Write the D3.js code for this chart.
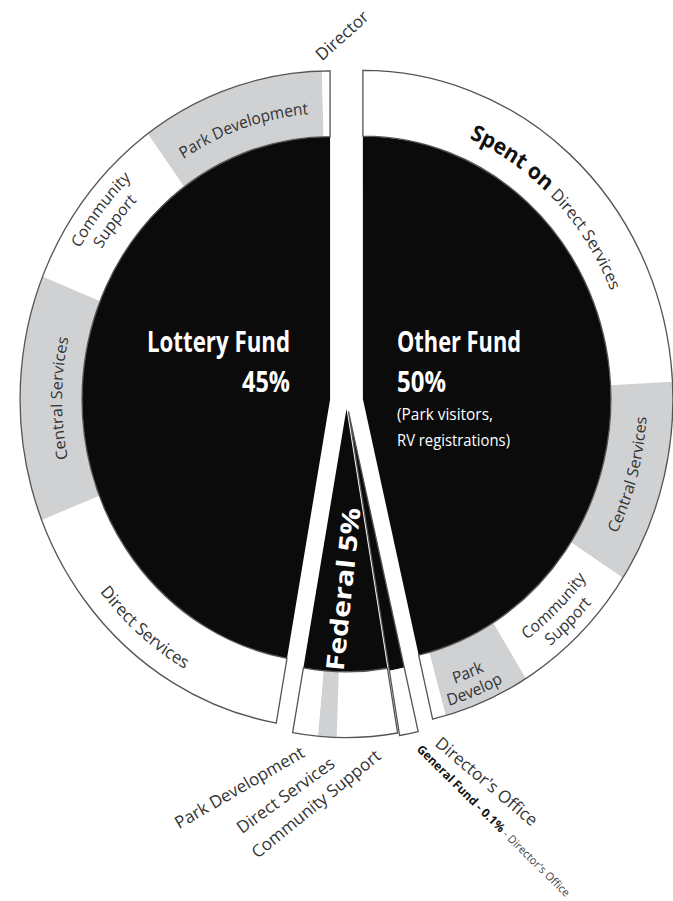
<!DOCTYPE html>
<html>

<head>
  <title>Parks funding</title>
  <style>
    body { margin: 0; background: #fff; }
    text { font-family: "Open Sans", "DejaVu Sans", sans-serif; }
  </style>
</head>

<body>

  <svg id="main" width="673" height="901"></svg>

  <script src="https://cdn.jsdelivr.net/npm/d3@7"></script>
  <script>

    // funds, clockwise from 12 o'clock
    const funds = ['Other Fund', 'General Fund', 'Federal', 'Lottery Fund']
    const fundShares = ['50%', '0.1%', '5%', '45%']
    // wedge size as it is drawn in the picture (degrees)
    const fundSweep = [167, 3.5, 19.5, 170]

    // what each fund is spent on (outer ring), clockwise, degrees as drawn
    const otherUses = ['Direct Services', 'Central Services', 'Community Support', 'Park Develop', "Director's Office"]
    const otherSweep = [87, 36, 25.3, 16.2, 2.5]
    const generalUses = ["Director's Office"]
    const generalSweep = [3.5]
    const federalUses = ['Community Support', 'Direct Services', 'Park Development']
    const federalSweep = [11.3, 3.5, 4.7]
    const lotteryUses = ['Direct Services', 'Central Services', 'Community Support', 'Park Development', 'Director']
    const lotterySweep = [58.5, 43.5, 32, 34.5, 1.5]

    const svg = d3.select('#main')
    const cx = 346.5, cy = 401, stretch = 1.06
    const rIn = 248, rOut = 310
    const explode = [16.5, 10, 7.5, 16.5]
    const black = '#0b0b0c', grey = '#d0d1d3', edge = '#555'

    const uses = [otherUses, generalUses, federalUses, lotteryUses]
    const useSweeps = [otherSweep, generalSweep, federalSweep, lotterySweep]

    const g = svg.append('g')
      .attr('transform', `translate(${cx},${cy}) scale(1,${stretch})`)

    const fundArcs = d3.pie().sort(null).value(d => d)(fundSweep)
    fundArcs.forEach((d, i) => { d.name = funds[i] })

    const inner = d3.arc().innerRadius(0).outerRadius(rIn)
    const ring = d3.arc().innerRadius(rIn).outerRadius(rOut)
    const whole = d3.arc().innerRadius(0).outerRadius(rOut)

    const mid = d => (d.startAngle + d.endAngle) / 2

    const slices = g.selectAll('g.fund')
      .data(fundArcs)
      .join('g')
      .attr('class', 'fund')
      .attr('transform', (d, i) => `translate(${Math.sin(mid(d)) * explode[i]},${-Math.cos(mid(d)) * explode[i]})`)

    slices.append('path')
      .attr('d', inner)
      .attr('fill', black)

    const segArcs = []
    slices.each(function (d, i) {
      const segs = d3.pie().sort(null).value(v => v)
        .startAngle(d.startAngle).endAngle(d.endAngle)(useSweeps[i])
      segs.forEach((s, j) => { s.name = uses[i][j] })
      segArcs.push(segs)
      d3.select(this).selectAll('path.seg')
        .data(segs)
        .join('path')
        .attr('class', 'seg')
        .attr('d', ring)
        .attr('fill', (s, j) => j % 2 ? grey : '#fff')
    })

    slices.append('path')
      .attr('d', (d, i) => i === 1 ? whole(d) : ring(d))
      .attr('fill', 'none')
      .attr('stroke', edge)
      .attr('stroke-width', 1.3)

    // text that follows the ring
    function arcPath(r, a, outward) {
      const span = 1.4
      const p = t => [r * Math.sin(t), -r * Math.cos(t)]
      const [x0, y0] = p(outward ? a - span : a + span)
      const [x1, y1] = p(outward ? a + span : a - span)
      return `M${x0},${y0} A${r},${r} 0 0 ${outward ? 1 : 0} ${x1},${y1}`
    }

    // one text element, one textPath per line
    let pathId = 0
    function ringText(fund, a, outward, lines) {
      const grp = d3.select(slices.nodes()[fund])
      const txt = grp.append('text').attr('fill', '#333')
      lines.forEach(line => {
        const id = 'lp' + (pathId++)
        grp.insert('path', 'text').attr('id', id).attr('d', arcPath(line.r, a, outward)).attr('fill', 'none')
        const tp = txt.append('textPath')
          .attr('href', '#' + id)
          .attr('startOffset', '50%')
          .attr('text-anchor', 'middle')
        line.parts.forEach(p => {
          tp.append('tspan')
            .attr('font-size', p.size)
            .attr('font-weight', p.bold ? 700 : 400)
            .attr('fill', p.bold ? '#111' : '#333')
            .text(p.text)
        })
      })
    }

    const deg = Math.PI / 180
    const ringLabels = [
      { fund: 3, seg: 3, lines: ['Park Development'], r: [270], out: true },
      { fund: 3, seg: 2, lines: ['Community', 'Support'], r: [288, 269], out: true },
      { fund: 3, seg: 1, lines: ['Central Services'], r: [268], out: true },
      { fund: 3, seg: 0, lines: ['Direct  Services'], r: [293], out: false, shift: 1.5, size: 16.5 },
      { fund: 0, seg: 1, lines: ['Central Services'], r: [284], out: false },
      { fund: 0, seg: 2, lines: ['Community', 'Support'], r: [280, 299], out: false },
      { fund: 0, seg: 3, lines: ['Park', 'Develop'], r: [284, 302], out: false, shift: 1.5 }
    ]
    ringLabels.forEach(l => {
      const a = mid(segArcs[l.fund][l.seg]) + (l.shift || 0) * deg
      ringText(l.fund, a, l.out, l.lines.map((t, k) => ({
        r: l.r[k], parts: [{ text: t, size: l.size || 15.5 }]
      })))
    })
    ringText(0, mid(segArcs[0][0]) + 2 * deg, true, [{
      r: 268,
      parts: [{ text: 'Spent on ', size: 21, bold: true }, { text: otherUses[0], size: 16 }]
    }])

    // fund names in the black wedges
    const big = svg.append('g').attr('fill', '#fff').attr('font-weight', 700)
    const fundText = [
      { t: funds[3], x: 290, y: 352, anchor: 'end', size: 28, len: 143 },
      { t: fundShares[3], x: 290, y: 392, anchor: 'end', size: 28, len: 48 },
      { t: funds[0], x: 397, y: 352, anchor: 'start', size: 28, len: 124 },
      { t: fundShares[0], x: 397, y: 392, anchor: 'start', size: 28, len: 49 },
      { t: '(Park visitors,', x: 397, y: 420, anchor: 'start', size: 17, len: 96, light: true },
      { t: 'RV registrations)', x: 397, y: 446, anchor: 'start', size: 17, len: 113, light: true }
    ]
    big.selectAll('text')
      .data(fundText)
      .join('text')
      .attr('x', d => d.x)
      .attr('y', d => d.y)
      .attr('text-anchor', d => d.anchor)
      .attr('font-size', d => d.size)
      .attr('font-weight', d => d.light ? 400 : 700)
      .attr('textLength', d => d.len)
      .attr('lengthAdjust', 'spacingAndGlyphs')
      .text(d => d.t)

    svg.append('text')
      .attr('transform', 'translate(352,590) rotate(-84)')
      .attr('text-anchor', 'middle')
      .attr('fill', '#fff')
      .attr('font-weight', 700)
      .attr('font-size', 25)
      .attr('textLength', 164)
      .attr('lengthAdjust', 'spacingAndGlyphs')
      .text(funds[2] + ' ' + fundShares[2])

    // labels outside the ring
    const outer = [
      { t: lotteryUses[4], x: 346, y: 40, rot: -42, anchor: 'middle', size: 17 },
      { t: federalUses[2], x: 306, y: 756, rot: -30, anchor: 'end', size: 17 },
      { t: federalUses[1], x: 336, y: 766, rot: -36, anchor: 'end', size: 17 },
      { t: federalUses[0], x: 382, y: 758, rot: -39, anchor: 'end', size: 17 },
      { t: otherUses[4], x: 434, y: 745, rot: 40, anchor: 'start', size: 17 }
    ]
    svg.append('g').attr('fill', '#333')
      .selectAll('text')
      .data(outer)
      .join('text')
      .attr('transform', d => `translate(${d.x},${d.y}) rotate(${d.rot})`)
      .attr('text-anchor', d => d.anchor)
      .attr('font-size', d => d.size)
      .text(d => d.t)

    const gf = svg.append('text')
      .attr('transform', 'translate(416,750) rotate(44.6)')
    gf.append('tspan').attr('font-size', 12).attr('font-weight', 700).attr('fill', '#111')
      .text(funds[1] + ' - ' + fundShares[1])
    gf.append('tspan').attr('font-size', 11).attr('fill', '#444')
      .text(' - ' + generalUses[0])

  </script>
</body>

</html>
